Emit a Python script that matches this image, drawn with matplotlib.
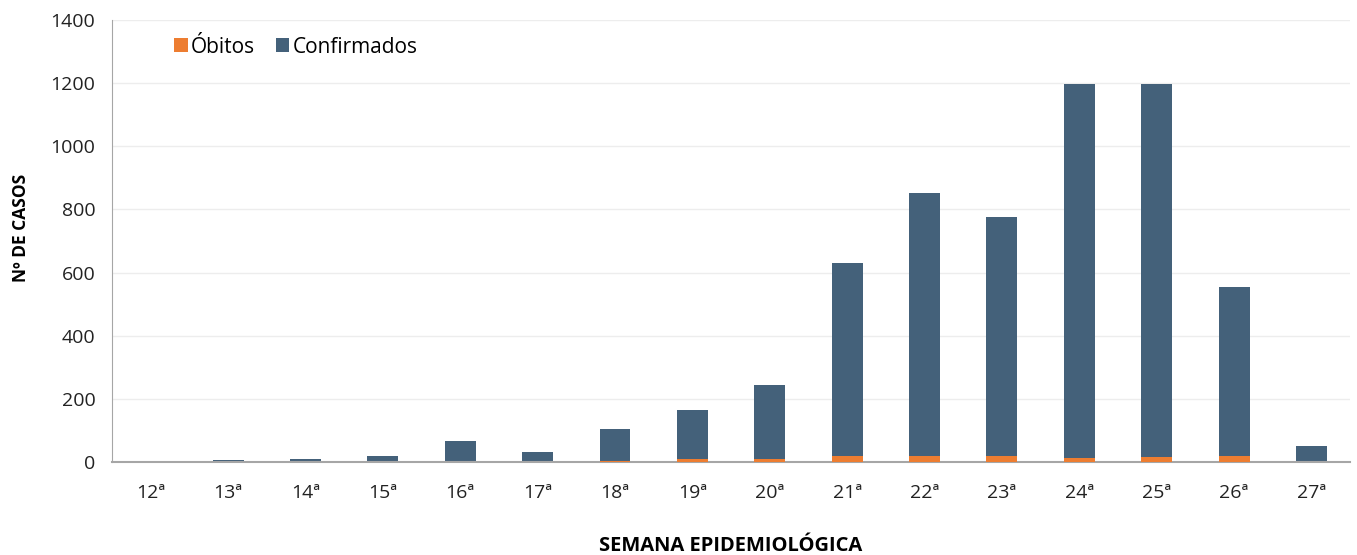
import matplotlib.pyplot as plt
import numpy as np

# semanas epidemiológicas e casos
semanas = ['12ª', '13ª', '14ª', '15ª', '16ª', '17ª', '18ª', '19ª',
           '20ª', '21ª', '22ª', '23ª', '24ª', '25ª', '26ª', '27ª']
confirmados = [1, 5, 8, 18, 67, 32, 103, 166, 245, 631, 851, 776, 1197, 1197, 553, 50]
obitos = [0, 0, 0, 0, 0, 1, 2, 11, 10, 20, 20, 20, 14, 17, 20, 0]

cor_conf = '#44617A'
cor_obito = '#ED7D31'

plt.rcParams['font.family'] = ['Open Sans', 'DejaVu Sans']

fig = plt.figure(figsize=(13.57, 5.55), dpi=100)
ax = fig.add_axes([0.0825, 0.1676, 0.9125, 0.7964])

x = np.arange(len(semanas))
ax.bar(x, confirmados, width=0.4, color=cor_conf, label='Confirmados', zorder=2)
ax.bar(x, obitos, width=0.4, color=cor_obito, label='Óbitos', zorder=3)

ax.set_xlim(-0.5, len(semanas) - 0.5)
ax.set_ylim(0, 1400)
ax.set_yticks(range(0, 1401, 200))
ax.set_xticks(x)
ax.set_xticklabels(semanas)
ax.tick_params(axis='both', length=0, labelsize=14, colors='#222222')
ax.tick_params(axis='x', pad=16)
ax.tick_params(axis='y', pad=12)
ax.grid(axis='y', color='#EDEDED', linewidth=1, zorder=0)

for lado in ['top', 'right']:
    ax.spines[lado].set_visible(False)
ax.spines['left'].set_color('#A6A6A6')
ax.spines['bottom'].set_color('#A6A6A6')
ax.spines['bottom'].set_linewidth(1.5)

ax.set_ylabel('Nº DE CASOS', fontsize=12.5, fontweight='bold')
ax.yaxis.set_label_coords(-0.066, 0.53)
ax.set_xlabel('SEMANA EPIDEMIOLÓGICA', fontsize=14.5, fontweight='bold', labelpad=24)

handles, labels = ax.get_legend_handles_labels()
ax.legend(handles[::-1], labels[::-1], loc='upper left', bbox_to_anchor=(0.035, 1.005),
          ncol=2, frameon=False, fontsize=15, handlelength=0.65, handleheight=0.65,
          handletextpad=0.15, columnspacing=1.0)

fig.savefig('out.png', dpi=100)
